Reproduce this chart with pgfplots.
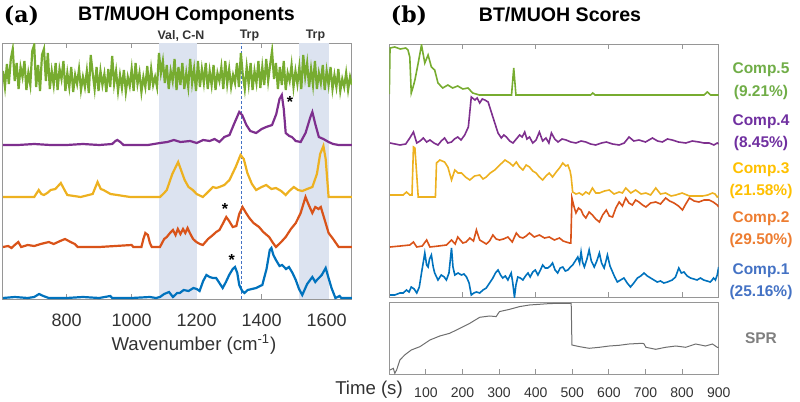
\documentclass[border=0pt]{standalone}
\usepackage{pgfplots}
\pgfplotsset{compat=1.18}
\usepackage{fontspec}
\setmainfont{Liberation Sans}
\newfontfamily\serifb{DejaVu Serif}

\definecolor{mgreen}{RGB}{119,172,48}
\definecolor{mpurple}{RGB}{126,47,142}
\definecolor{myellow}{RGB}{237,177,32}
\definecolor{morange}{RGB}{217,83,25}
\definecolor{mblue}{RGB}{0,114,189}
\definecolor{tgreen}{RGB}{112,173,71}
\definecolor{tpurple}{RGB}{112,48,160}
\definecolor{tyellow}{RGB}{255,192,0}
\definecolor{torange}{RGB}{237,125,49}
\definecolor{tblue}{RGB}{68,114,196}
\definecolor{tgray}{RGB}{127,127,127}
\definecolor{sprc}{RGB}{110,110,110}
\definecolor{axgray}{RGB}{150,150,150}
\definecolor{tickc}{RGB}{50,50,50}
\definecolor{shadec}{RGB}{220,227,240}

\pgfplotsset{
  panel/.style={scale only axis, anchor=south west,
    axis line style={draw=axgray, line width=0.5pt},
    tick style={draw=axgray, line width=0.4pt},
    tick align=inside, major tick length=2.5pt, ytick=\empty,
    /pgf/number format/assume math mode=true,
    /pgf/number format/set thousands separator={},
    ticklabel style={text=tickc}},
}

\begin{document}
\begin{tikzpicture}
\path[use as bounding box] (0,0) rectangle (400pt,-201pt);

% ---------- (a) components ----------
\begin{axis}[panel, at={(1.5pt,-149.5pt)}, width=174.5pt, height=128pt,
  xmin=604, xmax=1678, ymin=0, ymax=256,
  xtick={800,1000,1200,1400,1600},
  xticklabel style={font=\fontsize{9}{10}\selectfont, yshift=-4pt}]
\addplot[draw=none, fill=shadec] coordinates {(1084,0) (1201,0) (1201,256) (1084,256)} -- cycle;
\addplot[draw=none, fill=shadec] coordinates {(1515,0) (1607,0) (1607,256) (1515,256)} -- cycle;
\addplot[tblue, line width=0.45pt, dash pattern=on 1.5pt off 1pt] coordinates {(1339,0) (1339,256)};
% Comp.5
\addplot[mgreen, line width=1.1pt] coordinates {
(604,228)(610,212)(616,235)(622,215)(628,240)(634,250)(640,218)(646,236)(652,210)(658,232)
(664,222)(670,238)(676,209)(682,226)(688,214)(694,248)(700,254)(706,212)(712,234)(718,208)
(724,244)(730,250)(736,218)(742,246)(748,210)(754,228)(760,214)(766,236)(772,209)(778,230)
(784,220)(790,238)(796,208)(802,226)(808,212)(814,232)(820,207)(826,224)(832,215)(838,230)
(844,209)(850,222)(856,212)(862,228)(868,206)(874,244)(880,226)(886,210)(892,232)(898,208)
(904,228)(910,214)(916,225)(922,207)(928,230)(934,212)(940,243)(946,215)(952,228)(958,208)
(964,224)(970,211)(976,229)(982,207)(988,222)(994,213)(1000,230)(1006,208)(1012,236)(1018,215)
(1024,226)(1030,207)(1036,222)(1042,212)(1048,233)(1054,209)(1060,230)(1066,214)(1072,222)(1078,212)
(1084,246)(1090,226)(1096,238)(1102,216)(1108,234)(1114,210)(1120,228)(1126,218)(1132,240)(1138,209)
(1144,232)(1150,214)(1156,236)(1162,210)(1168,226)(1174,212)(1180,240)(1186,216)(1192,230)(1198,208)
(1204,238)(1210,212)(1216,230)(1222,216)(1228,236)(1234,210)(1240,228)(1246,214)(1252,234)(1258,209)
(1264,226)(1270,218)(1276,232)(1282,210)(1288,238)(1294,215)(1300,230)(1306,212)(1312,224)(1318,216)
(1324,236)(1330,212)(1336,246)(1342,224)(1348,210)(1354,232)(1360,215)(1366,236)(1372,209)(1378,228)
(1384,216)(1390,238)(1396,211)(1402,232)(1408,214)(1414,240)(1420,218)(1426,234)(1432,248)(1438,220)
(1444,236)(1450,210)(1456,232)(1462,214)(1468,238)(1474,209)(1480,226)(1486,218)(1492,234)(1498,212)
(1504,228)(1510,215)(1516,232)(1522,210)(1528,244)(1534,222)(1540,236)(1546,212)(1552,230)(1558,214)
(1564,238)(1570,210)(1576,226)(1582,216)(1588,234)(1594,209)(1600,228)(1606,214)(1612,232)(1618,210)
(1624,224)(1630,212)(1636,230)(1642,208)(1648,220)(1654,212)(1660,226)(1666,209)(1672,222)(1678,214)};
% Comp.4
\addplot[mpurple, line width=1.1pt] coordinates {
(604,154)(650,154)(700,155)(750,154)(800,154)(850,155)(900,154)(940,155)(950,158)(956,159)
(965,157)(975,154)(1000,154)(1050,154)(1087,156)(1110,157)(1130,159)(1150,157)(1180,158)(1200,156)
(1220,159)(1240,158)(1255,160)(1270,157)(1285,162)(1301,164)(1315,175)(1331,187)(1340,184)(1353,174)
(1365,168)(1383,166)(1400,170)(1414,172)(1432,174)(1445,185)(1455,200)(1462,204)(1468,190)(1474,166)
(1485,163)(1493,162)(1505,158)(1520,157)(1535,166)(1550,182)(1556,187)(1565,175)(1576,162)(1590,160)
(1606,157)(1620,155)(1637,154)(1678,154)};
% Comp.3
\addplot[myellow, line width=1.1pt] coordinates {
(604,102)(700,102)(714,109)(722,105)(730,104)(740,106)(751,109)(765,110)(782,116)(795,108)
(802,104)(843,102)(880,105)(895,117)(905,110)(913,109)(935,105)(956,104)(975,103)(996,102)
(1087,102)(1100,106)(1108,109)(1125,125)(1143,137)(1153,128)(1163,119)(1175,112)(1188,109)(1200,105)
(1219,102)(1235,107)(1250,112)(1260,111)(1270,112)(1285,114)(1301,119)(1320,132)(1335,144)(1345,140)
(1356,126)(1370,115)(1383,109)(1400,112)(1414,114)(1430,110)(1444,111)(1460,108)(1474,104)(1485,108)
(1499,112)(1512,109)(1525,108)(1540,110)(1556,112)(1570,125)(1580,145)(1590,153)(1597,140)(1606,102)
(1678,102)};
% Comp.2
\addplot[morange, line width=1.1pt] coordinates {
(604,52)(620,53)(630,51)(640,54)(651,57)(660,52)(680,54)(700,53)(720,55)(745,57)
(760,55)(780,58)(795,60)(812,57)(825,55)(834,52)(900,52)(1000,54)(1005,52)(1030,52)
(1036,60)(1042,66)(1050,64)(1056,56)(1062,52)(1087,52)(1100,60)(1108,62)(1118,66)(1127,69)
(1135,64)(1142,70)(1150,65)(1158,70)(1165,66)(1172,71)(1179,66)(1189,60)(1199,57)(1210,55)
(1219,54)(1235,60)(1250,64)(1260,67)(1270,69)(1280,75)(1291,82)(1300,78)(1311,72)(1322,73)
(1331,85)(1341,92)(1352,86)(1362,81)(1375,76)(1392,72)(1405,67)(1423,62)(1435,56)(1444,52)
(1460,57)(1474,62)(1490,70)(1505,76)(1520,86)(1535,102)(1545,94)(1556,86)(1565,92)(1575,90)
(1582,92)(1595,78)(1606,66)(1620,60)(1637,52)(1678,52)};
% Comp.1
\addplot[mblue, line width=1.1pt] coordinates {
(604,1)(640,2)(680,1)(700,2)(715,5)(728,3)(745,1)(800,1)(850,2)(900,1)
(934,3)(940,1)(1000,1)(1056,2)(1075,1)(1087,2)(1100,5)(1115,7)(1127,2)(1140,6)
(1148,6)(1160,9)(1175,8)(1190,11)(1200,10)(1209,8)(1220,18)(1230,24)(1240,22)(1250,21)
(1260,21)(1270,16)(1280,11)(1290,17)(1300,24)(1311,30)(1318,32)(1325,26)(1331,14)(1340,8)
(1347,6)(1357,9)(1370,10)(1383,11)(1395,13)(1402,14)(1415,30)(1425,49)(1430,51)(1436,44)
(1444,39)(1455,33)(1463,34)(1475,30)(1484,32)(1495,26)(1505,19)(1515,10)(1525,4)(1540,15)
(1556,22)(1565,17)(1570,19)(1585,24)(1597,31)(1605,22)(1615,11)(1627,1)(1640,3)(1645,1)
(1678,1)};
\node[font=\bfseries\fontsize{8}{8}\selectfont] at (axis cs:1487,197) {*};
\node[font=\bfseries\fontsize{8}{8}\selectfont] at (axis cs:1287,90) {*};
\node[font=\bfseries\fontsize{8}{8}\selectfont] at (axis cs:1308,39) {*};
\end{axis}

% ---------- (b) scores ----------
\begin{axis}[panel, at={(194.65pt,-148.5pt)}, width=164.7pt, height=126.5pt,
  xmin=0, xmax=900, ymin=0, ymax=253,
  xtick={200,400,600,800}, xticklabels={}]
\addplot[mgreen, line width=0.8pt] coordinates {
(0,203)(2,249)(15,250)(30,248)(45,249)(51,247)(56,240)(60,204)(65,210)(70,217)
(79,234)(88,252)(97,234)(106,242)(115,230)(124,227)(133,214)(146,209)(160,212)(173,209)
(187,211)(201,208)(215,209)(228,204)(246,202)(334,202)(340,229)(346,202)(550,202)(556,204)
(562,202)(860,202)(869,205)(878,202)(900,202)};
\addplot[mpurple, line width=0.8pt] coordinates {
(2,154)(29,152)(45,153)(56,159)(66,165)(75,154)(84,156)(93,159)(102,155)(111,157)
(122,154)(133,152)(142,156)(151,159)(160,154)(170,155)(178,158)(187,160)(196,157)(206,162)
(216,170)(224,200)(234,197)(240,199)(247,194)(254,198)(261,197)(270,195)(283,180)(297,164)
(306,159)(313,162)(320,160)(329,156)(338,154)(347,158)(356,162)(363,160)(370,165)(376,158)
(383,160)(392,154)(401,157)(410,165)(419,156)(428,159)(436,154)(443,164)(452,158)(461,155)
(472,158)(483,157)(496,155)(510,154)(524,156)(537,155)(550,153)(564,152)(580,154)(593,155)
(610,153)(628,152)(642,154)(655,160)(668,156)(682,157)(700,155)(719,159)(733,156)(746,155)
(760,158)(773,157)(790,155)(810,154)(828,156)(846,155)(860,154)(874,154)(887,152)(896,154)
(900,153)};
\addplot[myellow, line width=0.8pt] coordinates {
(2,102)(38,102)(47,105)(56,102)(62,102)(66,150)(70,149)(79,100)(120,100)(126,100)
(129,134)(138,137)(151,135)(160,130)(170,117)(179,127)(188,124)(197,124)(208,120)(220,117)
(233,121)(247,122)(256,118)(265,120)(276,124)(288,127)(302,132)(316,137)(329,134)(338,131)
(347,135)(356,130)(365,127)(374,132)(383,130)(392,126)(401,124)(410,120)(419,117)(428,121)
(437,124)(446,120)(456,125)(465,129)(474,134)(482,131)(488,132)(494,126)(497,120)(501,105)
(510,103)(519,104)(528,102)(537,105)(546,103)(555,109)(564,104)(574,104)(588,106)(601,107)
(614,103)(628,105)(637,104)(646,109)(660,104)(673,107)(688,103)(701,104)(714,102)(728,109)
(741,103)(755,104)(770,101)(783,102)(800,104)(820,101)(838,101)(856,101)(870,102)(883,104)
(890,103)(896,100)(900,101)};
\addplot[morange, line width=0.8pt] coordinates {
(2,50)(30,51)(56,52)(66,55)(75,50)(90,51)(102,57)(111,50)(135,51)(156,52)
(170,57)(180,53)(187,60)(201,54)(210,55)(220,59)(230,56)(238,67)(247,57)(256,55)
(265,53)(274,56)(283,62)(292,58)(301,57)(312,58)(324,60)(336,55)(347,64)(356,60)
(365,59)(374,61)(383,64)(396,60)(410,62)(424,59)(437,60)(451,57)(465,59)(475,56)
(483,55)(492,54)(496,54)(499,99)(505,90)(510,84)(517,89)(524,87)(530,82)(537,79)
(546,85)(555,82)(564,78)(574,75)(583,82)(593,87)(601,81)(610,80)(619,89)(628,95)
(637,91)(646,99)(655,94)(664,92)(673,97)(682,95)(692,92)(701,90)(714,94)(728,95)
(741,93)(755,99)(766,96)(778,94)(790,91)(801,87)(810,93)(820,99)(833,96)(846,95)
(860,97)(874,97)(885,95)(896,92)(900,90)};
\addplot[mblue, line width=0.8pt] coordinates {
(2,2)(15,2)(29,4)(38,4)(47,7)(54,5)(60,10)(68,8)(75,4)(82,10)
(88,24)(97,44)(102,32)(106,30)(110,38)(115,42)(120,30)(124,24)(133,17)(142,22)
(150,20)(156,17)(163,24)(170,49)(174,30)(179,22)(188,24)(197,22)(204,23)(211,20)
(218,14)(224,2)(231,4)(238,5)(247,4)(256,7)(265,9)(274,14)(283,19)(290,24)
(297,27)(304,22)(310,19)(317,21)(324,17)(333,24)(337,15)(342,0)(346,12)(351,20)
(358,19)(365,17)(372,21)(379,24)(385,20)(392,25)(399,27)(406,22)(413,27)(419,32)
(426,29)(433,29)(440,31)(446,34)(453,27)(460,24)(467,29)(474,30)(481,26)(488,27)
(495,30)(501,32)(508,36)(515,40)(520,34)(524,45)(528,35)(533,30)(540,38)(546,47)
(552,36)(560,30)(567,36)(574,44)(580,34)(587,29)(592,36)(596,42)(603,31)(610,25)
(616,20)(623,15)(632,17)(641,19)(650,14)(659,10)(668,14)(678,19)(687,21)(696,24)
(705,21)(714,19)(723,17)(732,15)(741,16)(750,14)(760,15)(773,17)(782,20)(791,29)
(798,24)(805,25)(814,21)(823,19)(832,18)(841,17)(850,19)(859,17)(868,16)(877,15)
(882,17)(886,19)(891,17)(896,22)(900,30)};
\end{axis}

% ---------- SPR ----------
\begin{axis}[panel, at={(194.65pt,-187.15pt)}, width=164.7pt, height=35.8pt,
  xmin=0, xmax=900, ymin=0, ymax=71.6,
  xtick={100,200,...,900}, xtick pos=left,
  xticklabel style={font=\fontsize{7}{8}\selectfont, yshift=-3pt}]
\addplot[sprc, line width=0.5pt] coordinates {
(2,4.3)(11,6)(15,1)(20,4.3)(29,14.3)(42,19.3)(60,24.3)(84,27.7)(111,34.3)(138,38.3)
(165,41)(193,46)(220,51)(247,57)(274,58.3)(292,57.7)(296,60)(301,62.7)(329,65)(356,67.7)
(383,69.3)(410,70)(437,70.7)(465,71)(497,71)(499,29.3)(519,27.7)(546,26)(574,27)(601,28.3)
(628,29)(655,30.3)(691,31)(696,30.5)(701,27)(728,25)(755,27)(783,28.3)(810,27)(837,30.3)
(864,28.3)(883,30.3)(896,27)(900,27)};
\end{axis}

% ---------- texts ----------
\node[font=\serifb\bfseries\fontsize{11}{11}\selectfont] at (10.75pt,-8pt) {(a)};
\node[font=\serifb\bfseries\fontsize{11}{11}\selectfont] at (204.5pt,-8pt) {(b)};
\node[font=\bfseries\fontsize{9.8}{10}\selectfont] at (93.25pt,-7.5pt) {BT/MUOH Components};
\node[font=\bfseries\fontsize{9.8}{10}\selectfont] at (280pt,-7.5pt) {BT/MUOH Scores};
\node[font=\bfseries\fontsize{6.2}{7}\selectfont, text=black!80] at (90.5pt,-18pt) {Val, C-N};
\node[font=\bfseries\fontsize{6.2}{7}\selectfont, text=black!80] at (124.75pt,-18pt) {Trp};
\node[font=\bfseries\fontsize{6.2}{7}\selectfont, text=black!80] at (157.75pt,-18pt) {Trp};
\node[font=\fontsize{9.3}{10}\selectfont, text=tickc] at (97pt,-172.25pt) {Wavenumber (cm\textsuperscript{-1})};
\node[font=\fontsize{9.3}{10}\selectfont, text=tickc] at (184.5pt,-195pt) {Time (s)};

\begin{scope}[every node/.style={font=\bfseries\fontsize{7.75}{8}\selectfont}]
\node[text=tgreen] at (380.5pt,-35pt) {Comp.5};
\node[text=tgreen] at (380.5pt,-46pt) {(9.21\%)};
\node[text=tpurple] at (380.5pt,-61pt) {Comp.4};
\node[text=tpurple] at (380.5pt,-71.5pt) {(8.45\%)};
\node[text=tyellow] at (380.5pt,-85pt) {Comp.3};
\node[text=tyellow] at (380.5pt,-95.5pt) {(21.58\%)};
\node[text=torange] at (380.5pt,-109.5pt) {Comp.2};
\node[text=torange] at (380.5pt,-120pt) {(29.50\%)};
\node[text=tblue] at (380.5pt,-135.5pt) {Comp.1};
\node[text=tblue] at (380.5pt,-146pt) {(25.16\%)};
\node[text=tgray] at (380.5pt,-169pt) {SPR};
\end{scope}
\end{tikzpicture}
\end{document}
